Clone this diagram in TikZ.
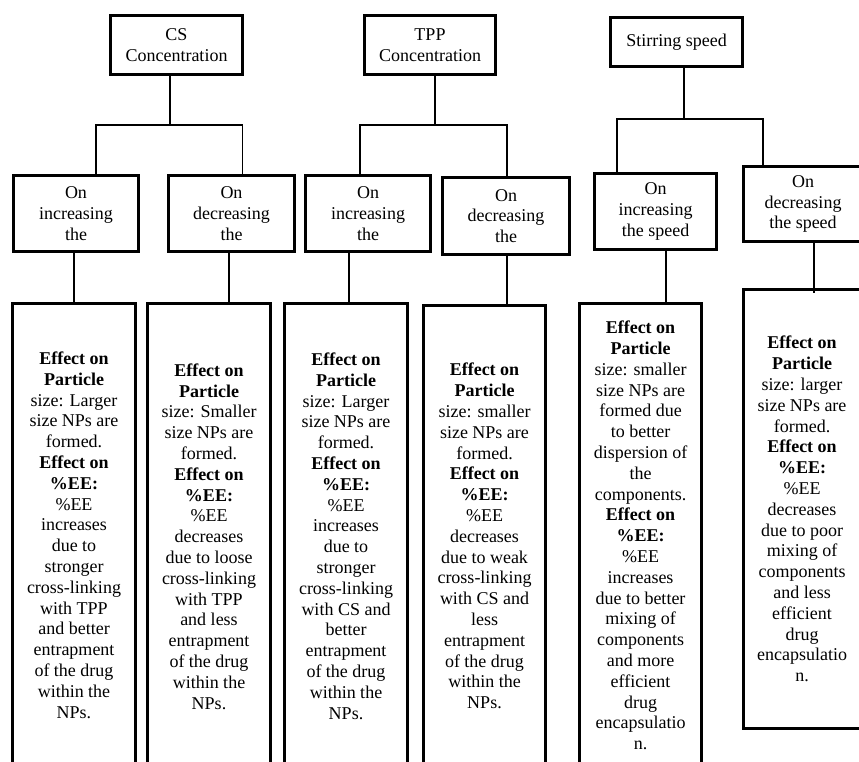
\documentclass[tikz,border=0pt]{standalone}
\usepackage{fontspec}
\setmainfont{Liberation Serif}
\begin{document}
\begin{tikzpicture}[x=1pt,y=-1pt,
  box/.style={draw, line width=3pt, inner sep=0pt, align=center,
    font=\fontsize{18}{20.8}\selectfont},
  conn/.style={draw, line width=1.2pt}]
\path[use as bounding box] (0,0) rectangle (859,762);
\fill[white] (0,0) rectangle (859,762);
\clip (0,0) rectangle (859,762);
% top
\node[box, minimum width=132pt, minimum height=59pt] (T1) at (176.5,45) {CS\\Concentration};
\node[box, minimum width=131pt, minimum height=59pt] (T2) at (430,45) {TPP\\Concentration};
\node[box, minimum width=132pt, minimum height=49pt] (T3) at (676.5,42) {Stirring speed};
% middle
\node[box, minimum width=125pt, minimum height=76pt] (M1) at (76,213.5) {On\\increasing\\the};
\node[box, minimum width=126pt, minimum height=76pt] (M2) at (231.5,213.5) {On\\decreasing\\the};
\node[box, minimum width=125pt, minimum height=76pt] (M3) at (368,213.5) {On\\increasing\\the};
\node[box, minimum width=127pt, minimum height=77pt] (M4) at (506,216) {On\\decreasing\\the};
\node[box, minimum width=122pt, minimum height=76pt] (M5) at (655.5,211.5) {On\\increasing\\the speed};
\node[box, minimum width=119pt, minimum height=75pt] (M6) at (803,204) {On\\decreasing\\the speed};
% bottom
\node[box, minimum width=123pt, minimum height=463pt] (A) at (74,535) {\textbf{Effect on}\\\textbf{Particle}\\size: Larger\\size NPs are\\formed.\\\textbf{Effect on}\\\textbf{\%EE:}\\\%EE\\increases\\due to\\stronger\\cross-linking\\with TPP\\and better\\entrapment\\of the drug\\within the\\NPs.};
\node[box, minimum width=123pt, minimum height=466pt] (B) at (209,536.5) {\textbf{Effect on}\\\textbf{Particle}\\size: Smaller\\size NPs are\\formed.\\\textbf{Effect on}\\\textbf{\%EE:}\\\%EE\\decreases\\due to loose\\cross-linking\\with TPP\\and less\\entrapment\\of the drug\\within the\\NPs.};
\node[box, minimum width=123pt, minimum height=465pt] (C) at (346,536) {\textbf{Effect on}\\\textbf{Particle}\\size: Larger\\size NPs are\\formed.\\\textbf{Effect on}\\\textbf{\%EE:}\\\%EE\\increases\\due to\\stronger\\cross-linking\\with CS and\\better\\entrapment\\of the drug\\within the\\NPs.};
\node[box, minimum width=122pt, minimum height=461pt] (D) at (484.5,536) {\textbf{Effect on}\\\textbf{Particle}\\size: smaller\\size NPs are\\formed.\\\textbf{Effect on}\\\textbf{\%EE:}\\\%EE\\decreases\\due to weak\\cross-linking\\with CS and\\less\\entrapment\\of the drug\\within the\\NPs.};
\node[box, minimum width=122pt, minimum height=464pt] (E) at (640.5,535.5) {\textbf{Effect on}\\\textbf{Particle}\\size: smaller\\size NPs are\\formed due\\to better\\dispersion of\\the\\components.\\\textbf{Effect on}\\\textbf{\%EE:}\\\%EE\\increases\\due to better\\mixing of\\components\\and more\\efficient\\drug\\encapsulatio\\n.};
\node[box, minimum width=117pt, minimum height=439pt] (F) at (802,509) {\textbf{Effect on}\\\textbf{Particle}\\size: larger\\size NPs are\\formed.\\\textbf{Effect on}\\\textbf{\%EE:}\\\%EE\\decreases\\due to poor\\mixing of\\components\\and less\\efficient\\drug\\encapsulatio\\n.};
% connectors
\draw[conn] (T1.south -| 170,0) -- (170,125);
\draw[conn] (M1.north -| 96,0) -- (96,125) -- (242.5,125) -- (M2.north -| 242.5,0);
\draw[conn] (T2.south -| 435,0) -- (435,125);
\draw[conn] (M3.north -| 360,0) -- (360,125) -- (507,125) -- (M4.north -| 507,0);
\draw[conn] (T3.south -| 684,0) -- (684,119);
\draw[conn] (M5.north -| 617,0) -- (617,119) -- (763,119) -- (M6.north -| 763,0);
\draw[conn] (M1.south -| 74,0) -- (A.north -| 74,0);
\draw[conn] (M2.south -| 229,0) -- (B.north -| 229,0);
\draw[conn] (M3.south -| 349,0) -- (C.north -| 349,0);
\draw[conn] (M4.south -| 507,0) -- (D.north -| 507,0);
\draw[conn] (M5.south -| 666,0) -- (E.north -| 666,0);
\draw[conn] (M6.south -| 814,0) -- (814,293);
\end{tikzpicture}
\end{document}
